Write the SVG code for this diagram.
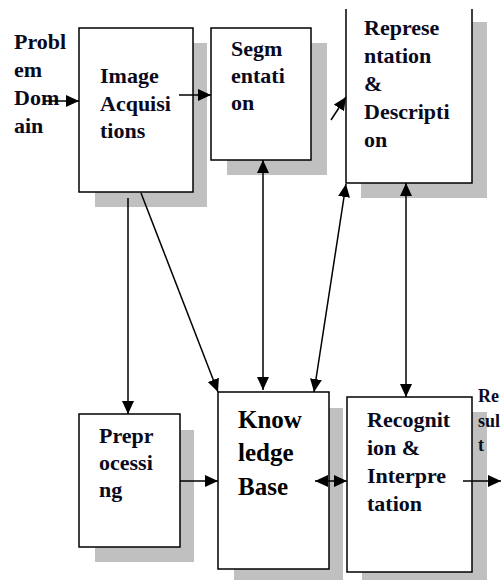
<svg xmlns="http://www.w3.org/2000/svg" width="501" height="580" viewBox="0 0 501 580">
<defs>
<marker id="ah" viewBox="0 0 13 12" refX="13" refY="6" markerWidth="13" markerHeight="12" markerUnits="userSpaceOnUse" orient="auto-start-reverse">
<path d="M0,0 L13,6 L0,12 z" fill="#000"/>
</marker>
<style>
.sh{fill:#c0c0c0}
.bx{fill:#fff;stroke:#000;stroke-width:1.5}
.t{font-family:"Liberation Serif","Times New Roman",serif;font-weight:bold;font-size:22px;fill:#0a0a1e}
.tr{font-family:"Liberation Serif","Times New Roman",serif;font-weight:bold;font-size:18px;fill:#0a0a1e}
.tk{font-family:"Liberation Serif","Times New Roman",serif;font-weight:bold;font-size:25px;fill:#000}
.c{stroke:#000;stroke-width:1.5;fill:none}
</style>
</defs>
<rect width="501" height="580" fill="#fff"/>
<g id="problem-domain">
<text class="t"><tspan x="14" y="49">Probl</tspan><tspan x="14" y="77">em</tspan><tspan x="14" y="105">Dom</tspan><tspan x="14" y="133">ain</tspan></text>
</g>
<g id="image-acquisitions">
<rect class="sh" x="95" y="43" width="112" height="164"/>
<rect class="bx" x="79" y="28" width="114" height="164"/>
<text class="t"><tspan x="100" y="83">Image</tspan><tspan x="100" y="111">Acquisi</tspan><tspan x="100" y="138">tions</tspan></text>
</g>
<g id="segmentation">
<rect class="sh" x="227" y="43" width="100" height="132"/>
<rect class="bx" x="211" y="28" width="100" height="132"/>
<text class="t"><tspan x="231" y="56">Segm</tspan><tspan x="231" y="83">entati</tspan><tspan x="231" y="110">on</tspan></text>
</g>
<g id="representation">
<rect class="sh" x="361" y="22" width="126" height="176"/>
<rect x="346" y="9" width="126" height="174" fill="#fff"/>
<path class="c" d="M346,9 V183 H472 V9"/>
<text class="t"><tspan x="364" y="35">Represe</tspan><tspan x="364" y="63">ntation</tspan><tspan x="364" y="91">&amp;</tspan><tspan x="364" y="119">Descripti</tspan><tspan x="364" y="147">on</tspan></text>
</g>
<g id="preprocessing">
<rect class="sh" x="95" y="430" width="99" height="132"/>
<rect class="bx" x="79" y="414" width="101" height="133"/>
<text class="t"><tspan x="99" y="443">Prepr</tspan><tspan x="99" y="470">ocessi</tspan><tspan x="99" y="497">ng</tspan></text>
</g>
<g id="knowledge-base">
<rect class="sh" x="234" y="408" width="109" height="180"/>
<rect class="bx" x="218" y="392" width="111" height="177"/>
<text class="tk"><tspan x="238" y="428">Know</tspan><tspan x="238" y="461">ledge</tspan><tspan x="238" y="495">Base</tspan></text>
</g>
<g id="recognition">
<rect class="sh" x="362" y="412" width="125" height="176"/>
<rect class="bx" x="347" y="397" width="125" height="175"/>
<text class="t"><tspan x="367" y="427">Recognit</tspan><tspan x="367" y="455">ion &amp;</tspan><tspan x="367" y="483">Interpre</tspan><tspan x="367" y="511">tation</tspan></text>
</g>
<g id="result">
<text class="tr"><tspan x="478" y="402">Re</tspan><tspan x="478" y="427">sul</tspan><tspan x="478" y="451">t</tspan></text>
</g>
<g id="connectors">
<line class="c" x1="45" y1="101" x2="79" y2="101" marker-end="url(#ah)"/>
<line class="c" x1="179" y1="95" x2="211" y2="95" marker-end="url(#ah)"/>
<line class="c" x1="331" y1="120" x2="346" y2="97" marker-end="url(#ah)"/>
<line class="c" x1="128" y1="198" x2="128" y2="414" marker-end="url(#ah)"/>
<line class="c" x1="141" y1="193" x2="218" y2="392" marker-end="url(#ah)"/>
<line class="c" x1="263" y1="160" x2="263" y2="390" marker-start="url(#ah)" marker-end="url(#ah)"/>
<line class="c" x1="314" y1="392" x2="346" y2="184" marker-start="url(#ah)" marker-end="url(#ah)"/>
<line class="c" x1="406" y1="183" x2="406" y2="397" marker-start="url(#ah)" marker-end="url(#ah)"/>
<line class="c" x1="315" y1="481" x2="347" y2="481" marker-start="url(#ah)" marker-end="url(#ah)"/>
<line class="c" x1="180" y1="481" x2="218" y2="481" marker-end="url(#ah)"/>
<line class="c" x1="463" y1="481" x2="501" y2="481" marker-end="url(#ah)"/>
</g>
</svg>
